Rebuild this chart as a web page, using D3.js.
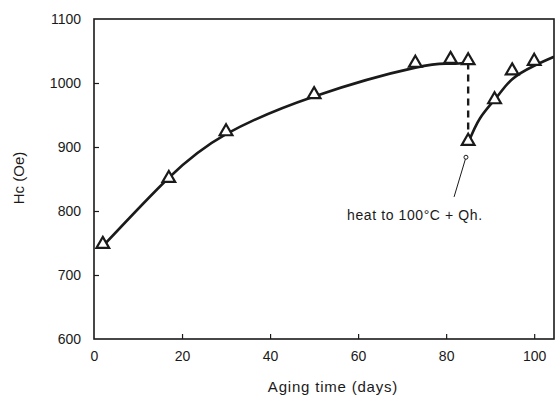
<!DOCTYPE html>
<html><head><meta charset="utf-8">
<script src="https://cdn.jsdelivr.net/npm/d3@7"></script>
<style>body{margin:0;background:#fff}svg{display:block}</style>
</head><body><svg id="c" width="555" height="401"></svg>
<script>
const xTicks = [0, 20, 40, 60, 80, 100];
const yTicks = [600, 700, 800, 900, 1000, 1100];
const agingDays = [2, 17, 30, 50, 73, 81, 85, 85, 91, 95, 100];
const hcValues = [745, 848, 921, 979, 1028, 1034, 1032, 906, 971, 1016, 1031];
const curveBefore = [[2, 745], [17, 852], [30, 920], [50, 979], [73, 1024], [81, 1030], [85, 1032]];
const curveAfter = [[85, 906], [87.7, 945], [91.5, 978], [95, 1006], [100, 1027], [104.5, 1041]];
const dropLine = [[85, 1032], [85, 906]];
const arrowLine = [[81.8, 822], [84.5, 884]];
const annotation = "heat to 100\u00B0C + Qh.";

const svg = d3.select("#c");
const L = 94, R = 554, T = 19, B = 339;
const x = d3.scaleLinear().domain([0, 104.5]).range([L, R]);
const y = d3.scaleLinear().domain([600, 1100]).range([B, T]);
const font = "Liberation Sans, Arial, sans-serif";
const ink = "#1a1a1a";

svg.append("rect").attr("x", L).attr("y", T).attr("width", R - L).attr("height", B - T)
  .attr("fill", "none").attr("stroke", ink).attr("stroke-width", 1.6);

const xAxis = d3.axisBottom(x).tickValues(xTicks).tickFormat(d3.format("d"))
  .tickSizeInner(-5).tickSizeOuter(0).tickPadding(12);
const gx = svg.append("g").attr("transform", `translate(0,${B})`).call(xAxis);
gx.select(".domain").remove();
gx.selectAll("line").attr("stroke", ink).attr("stroke-width", 1.2);
gx.selectAll("text").attr("font-family", font).attr("font-size", 14).attr("fill", ink);
gx.selectAll(".tick").filter(d => d === 0).select("line").remove();

const yAxis = d3.axisLeft(y).tickValues(yTicks).tickFormat(d3.format("d"))
  .tickSizeInner(-5).tickSizeOuter(0).tickPadding(13);
const gy = svg.append("g").attr("transform", `translate(${L},0)`).call(yAxis);
gy.select(".domain").remove();
gy.selectAll("line").attr("stroke", ink).attr("stroke-width", 1.2);
gy.selectAll("text").attr("font-family", font).attr("font-size", 14).attr("fill", ink);
gy.selectAll(".tick").filter(d => d === 600 || d === 1100).select("line").remove();

const line = d3.line().x(d => x(d[0])).y(d => y(d[1])).curve(d3.curveNatural);
svg.append("clipPath").attr("id", "pc").append("rect")
  .attr("x", L).attr("y", T).attr("width", R - L).attr("height", B - T);
const plot = svg.append("g").attr("clip-path", "url(#pc)");
plot.append("path").datum(curveBefore).attr("d", line).attr("fill", "none")
  .attr("stroke", ink).attr("stroke-width", 2.6);
plot.append("path").datum(curveAfter).attr("d", line).attr("fill", "none")
  .attr("stroke", ink).attr("stroke-width", 2.6);
plot.append("path").datum(dropLine).attr("d", d3.line().x(d => x(d[0])).y(d => y(d[1])))
  .attr("fill", "none").attr("stroke", ink).attr("stroke-width", 2.4).attr("stroke-dasharray", "7,5");

const tri = d3.symbol().type(d3.symbolTriangle).size(70);
plot.selectAll("path.m").data(agingDays.map((d, i) => [d, hcValues[i]])).join("path")
  .attr("class", "m").attr("d", tri)
  .attr("transform", d => `translate(${x(d[0])},${y(d[1]) - 2})`)
  .attr("fill", "#fff").attr("stroke", ink).attr("stroke-width", 2.2);

svg.append("path").datum(arrowLine).attr("d", d3.line().x(d => x(d[0])).y(d => y(d[1])))
  .attr("stroke", ink).attr("stroke-width", 1);
svg.append("circle").attr("cx", x(arrowLine[1][0])).attr("cy", y(arrowLine[1][1])).attr("r", 2)
  .attr("fill", "#fff").attr("stroke", ink).attr("stroke-width", 1);
svg.append("text").attr("x", 347).attr("y", 220).attr("font-family", font).attr("font-size", 14)
  .attr("fill", ink).attr("letter-spacing", 0.6).text(annotation);

svg.append("text").attr("x", 333).attr("y", 392).attr("text-anchor", "middle")
  .attr("font-family", font).attr("font-size", 15).attr("fill", ink).attr("letter-spacing", 0.8)
  .text("Aging time (days)");
svg.append("text").attr("transform", "translate(24,178) rotate(-90)").attr("text-anchor", "middle")
  .attr("font-family", font).attr("font-size", 15).attr("fill", ink)
  .text("Hc (Oe)");
</script></body></html>
